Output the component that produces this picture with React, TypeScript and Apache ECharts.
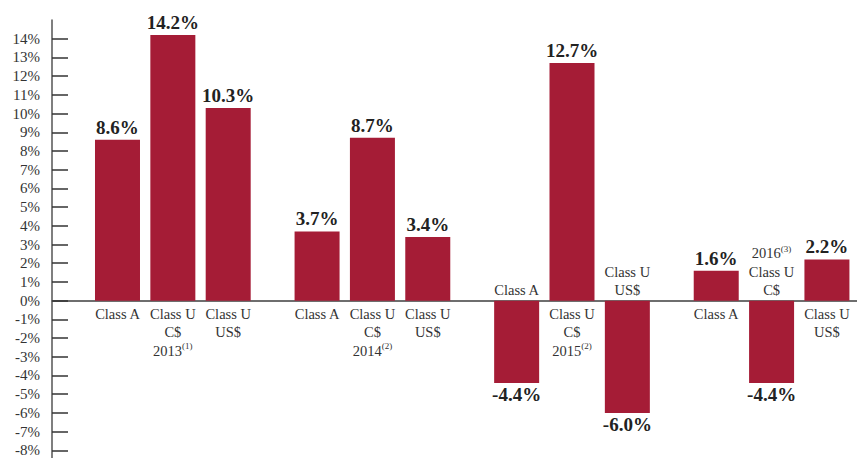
import React, { useEffect, useRef } from 'react';
import * as echarts from 'echarts';

const groups = ['2013', '2014', '2015', '2016'];
const footnotes = ['(1)', '(2)', '(2)', '(3)'];
const classA = [8.6, 3.7, -4.4, 1.6];
const classUCad = [14.2, 8.7, 12.7, -4.4];
const classUUsd = [10.3, 3.4, -6.0, 2.2];
const yTicks = [-8, -7, -6, -5, -4, -3, -2, -1, 0, 1, 2, 3, 4, 5, 6, 7, 8, 9, 10, 11, 12, 13, 14];

const BAR = '#a51c36';
const FONT = "'Liberation Serif', 'Times New Roman', serif";

function catText(kind: number, g: number, v: number): string {
  if (kind === 0) return '{c|Class A}';
  if (kind === 2) return '{c|Class U}\n{c|US$}';
  const yr = '{c|' + groups[g] + '}{s|' + footnotes[g] + '}';
  return v >= 0 ? '{c|Class U}\n{c|C$}\n' + yr : yr + '\n{c|Class U}\n{c|C$}';
}

const seriesVals = [classA, classUCad, classUUsd];
const seriesNames = ['Class A', 'Class U C$', 'Class U US$'];

export default function App() {
  const ref = useRef<HTMLDivElement>(null);
  useEffect(() => {
    document.body.style.margin = '0';
    const chart = echarts.init(ref.current!, null, { renderer: 'svg' });
    const valueSeries = seriesVals.map((vals, k) => ({
      type: 'bar',
      name: seriesNames[k],
      xAxisIndex: 0,
      barWidth: 45,
      barGap: '23%',
      itemStyle: { color: BAR },
      label: {
        show: true,
        fontFamily: FONT,
        fontWeight: 'bold',
        fontSize: 19,
        color: '#222',
        formatter: (p: any) => p.value[1].toFixed(1) + '%',
      },
      data: vals.map((v, i) => ({
        value: [i, v],
        label: { position: v >= 0 ? 'top' : 'bottom', distance: v >= 0 ? 3 : 2 },
      })),
    }));
    const labelSeries = seriesVals.map((vals, k) => ({
      type: 'bar',
      name: seriesNames[k] + ' label',
      xAxisIndex: 1,
      barWidth: 45,
      barGap: '23%',
      silent: true,
      itemStyle: { color: 'rgba(0,0,0,0)' },
      label: {
        show: true,
        fontFamily: FONT,
        color: '#333',
        rich: {
          c: { fontFamily: FONT, fontSize: 14.5, lineHeight: 18.5, color: '#333' },
          s: { fontFamily: FONT, fontSize: 9, lineHeight: 18.5, color: '#333', verticalAlign: 'top' },
        },
      },
      data: vals.map((v, i) => ({
        value: [i, v],
        label: {
          position: v >= 0 ? 'bottom' : 'top',
          distance: v >= 0 ? 4 : 1,
          formatter: catText(k, i, v),
        },
      })),
    }));
    const xBase = {
      type: 'value',
      min: -0.6055,
      max: 3.428,
      axisLabel: { show: false },
      axisTick: { show: false },
      splitLine: { show: false },
    };
    chart.setOption({
      animation: false,
      grid: { left: 52, right: 0, top: 20, bottom: 0, containLabel: false },
      xAxis: [
        { ...xBase, axisLine: { show: true, onZero: true, lineStyle: { color: '#6e6e6e', width: 2 } } },
        { ...xBase, axisLine: { show: false } },
      ],
      yAxis: {
        type: 'value',
        min: -8.41,
        max: 15,
        axisLine: { show: true, onZero: false, lineStyle: { color: '#555', width: 1.5 } },
        axisTick: { show: true, inside: true, length: 16, customValues: yTicks, lineStyle: { color: '#333', width: 1.5 } },
        axisLabel: {
          customValues: yTicks,
          formatter: (v: number) => v + '%',
          fontFamily: FONT,
          fontSize: 15,
          color: '#333',
          margin: 12,
          padding: [0, 0, 8, 0],
        },
        splitLine: { show: false },
      },
      series: [...valueSeries, ...labelSeries],
    });
    return () => chart.dispose();
  }, []);
  return <div ref={ref} style={{ width: 857, height: 458 }} />;
}
